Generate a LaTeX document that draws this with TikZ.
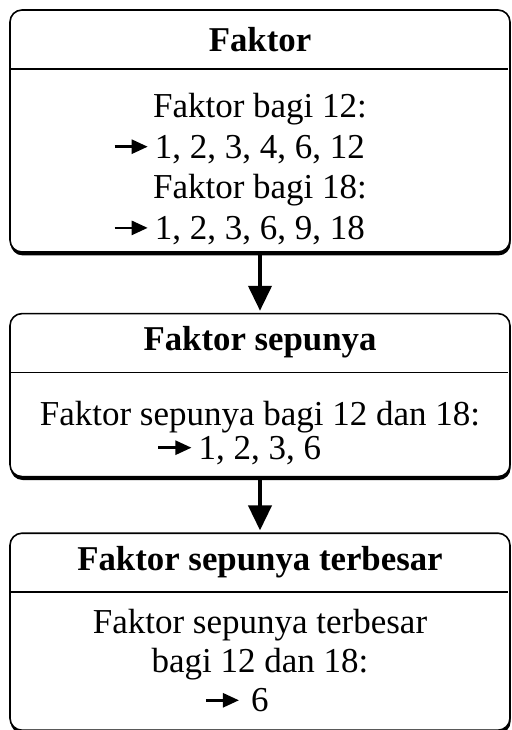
\documentclass[tikz,border=0pt]{standalone}
\usepackage{fontspec}
\setmainfont{Liberation Serif}
\usetikzlibrary{arrows.meta,positioning,shadows}

% small arrow hanging left of a line
\newcommand{\panah}[1][2pt]{\llap{\tikz[baseline=-5.8pt]\draw[line width=1.3pt,-{Triangle[length=8pt,width=7pt]}] (0,0) -- (17.5pt,0);\hspace{#1}}}

\begin{document}
\begin{tikzpicture}[>={Triangle[length=12.5pt,width=11.5pt]},shorten >=1pt,
    kotak/.style={draw,line width=0.8pt,rounded corners=6pt,fill=white,minimum width=250pt,inner sep=0pt,
        drop shadow={shadow xshift=0.3pt,shadow yshift=-1.7pt,opacity=1,fill=black}},
    judul/.style={font=\fontsize{17.4}{20}\selectfont\bfseries,minimum width=250pt,minimum height=29.5pt,
        inner sep=0pt,text height=11.8pt,text depth=3.6pt},
    isi/.style={font=\fontsize{17.5}{#1}\selectfont,align=center,inner sep=0pt},
    isi/.default=20.3pt,
    garis/.style={line width=0.8pt},
    alur/.style={->,line width=2pt}]

    \useasboundingbox (0,0) rectangle (255.5pt,-365pt);

    \node[kotak,minimum height=121pt] (k1) at (130pt,-65.5pt) {};
    \node[kotak,minimum height=81.5pt] (k2) [below=30pt of k1] {};
    \node[kotak,minimum height=98.5pt] (k3) [below=27.5pt of k2] {};

    \node[judul,text height=16pt] (j1) [below=0pt of k1.north] {Faktor};
    \node[judul] (j2) [below=0pt of k2.north] {Faktor sepunya};
    \node[judul] (j3) [below=0pt of k3.north] {Faktor sepunya terbesar};

    \node[isi] (i1) [below=12pt of j1]
        {Faktor bagi 12:\\\panah1, 2, 3, 4, 6, 12\\Faktor bagi 18:\\\panah1, 2, 3, 6, 9, 18};
    \node[isi=17pt] (i2) [below=14pt of j2]
        {Faktor sepunya bagi 12 dan 18:\\\panah1, 2, 3, 6};
    \node[isi=19.5pt] (i3) [below=8.5pt of j3]
        {Faktor sepunya terbesar\\bagi 12 dan 18:\\\panah[4.5pt]6};

    \foreach \j in {j1, j2, j3}
        {
        \draw[garis] (\j.south west) -- (\j.south east);
        }

    \foreach \dari/\ke in {k1/k2, k2/k3}
        {
        \draw[alur] (\dari) -- (\ke);
        }

\end{tikzpicture}
\end{document}
